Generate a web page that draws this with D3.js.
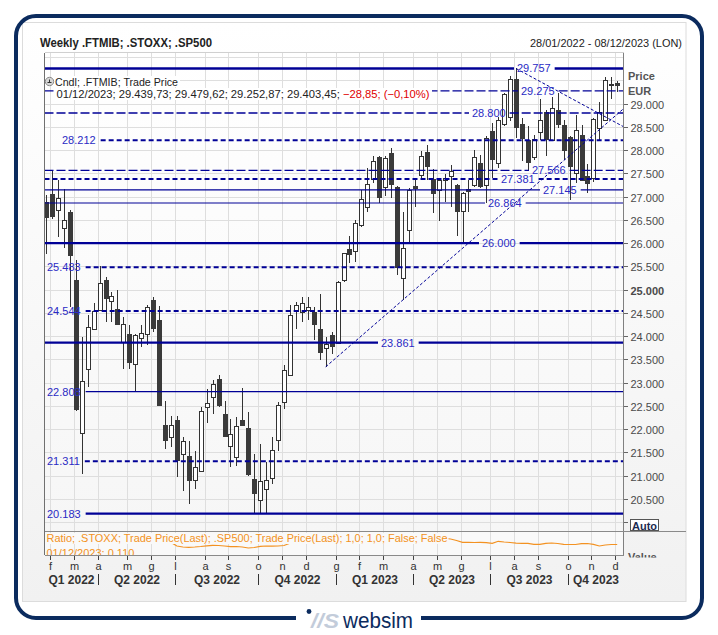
<!DOCTYPE html>
<html><head><meta charset="utf-8">
<script src="https://cdn.jsdelivr.net/npm/d3@7"></script>
<style>body{margin:0;background:#fff}svg{display:block}</style>
</head><body>
<svg id="c" width="718" height="635"></svg>
<script>
// ---------------- DATA ----------------
const firstWeek = "2022-01-28";
const open  = [26884,27063,26702,26323,26674,25207,21900,23302,24165,24575,25207,24761,24575,23876,24042,23410,23971,24042,24776,24344,
  22100,21826,22208,21481,21431,20907,21108,22474,22689,23078,22331,21647,21416,22202,22029,20929,20461,20713,20950,21755,
  22581,23157,24545,24502,24545,24523,24165,23746,24020,23854,25207,25876,25818,26394,26789,27365,27854,27207,27941,27207,
  25244,26271,27220,27451,27954,27386,27149,27365,27436,27257,26681,27170,27257,27725,27257,28407,27725,28551,28696,29522,
  28573,28228,27854,28407,28817,28228,28875,28551,28277,27509,28335,27451,27401,28480,28638,29405,29439.73];
const high  = [27041,27580,27365,27164,26717,25639,23984,24452,24704,25516,25278,24955,24991,24415,24236,24042,24236,24668,24847,24646,
  22597,22294,22294,21826,21755,21539,22474,22871,23050,23157,22597,22223,22258,22884,22366,21468,21684,21287,21826,22581,
  23388,24668,24739,24834,24847,24631,24905,23984,24092,25190,25800,26156,26502,27149,27617,27882,27870,27882,28049,27220,
  26681,27186,27350,27975,28120,27595,27401,27494,27688,27270,27091,27365,28001,27904,28299,28588,28717,29235,29593,29757,
  28696,28515,28335,29106,28875,29149,29235,28659,28299,28767,28551,27710,28690,29032,29580,29580,29479.62];
const low   = [25768,26517,26141,25891,24631,22402,21037,22905,24128,24560,24307,24307,24236,23302,23302,22819,23768,23805,24092,22490,
  21576,21611,20978,20661,20389,20713,21071,22128,22331,22488,21850,21194,21216,22080,21000,20187,20174,20174,20821,21539,
  22439,23136,24165,24307,24344,23928,23496,23337,23626,23840,25164,25567,25602,26357,26681,27293,26875,27019,26970,25315,
  24780,26033,26776,27365,27365,26659,26487,26896,26789,26156,25999,26681,27214,27186,26862,27401,27617,28515,28622,28264,
  27759,27580,27796,28228,27867,28213,28480,27796,26933,27293,27350,27078,27306,28191,28622,29091,29252.87];
const close = [26560,26594,26970,26502,25747,22439,23028,24200,24545,25149,24812,24862,24258,24258,23444,24035,24079,24631,24165,22510,
  21770,22094,21339,21755,20907,21179,22402,22568,22963,22510,21863,21900,22079,22094,21037,20618,20877,20907,21554,22510,
  23265,24452,24668,24704,24618,24273,23660,23826,23783,25170,25783,25762,26430,26948,27278,27759,26991,27833,27278,25494,
  25891,27134,27177,27867,27652,27078,27365,27401,27544,26702,27078,27127,27861,27235,28264,27796,28659,29198,29522,28480,
  28264,27759,28243,28659,28243,28912,28573,28012,27652,28443,27370,27293,28674,28817,29507,29432,29403.45];
// .STOXX / .SP500 ratio (one value per week)
const ratio = [0.1150,0.1155,0.1148,0.1160,0.1152,0.1140,0.1135,0.1142,0.1150,0.1147,0.1156,0.1151,0.1145,0.1139,0.1143,0.1148,0.1153,0.1146,0.1140,0.1132,
  0.1128,0.1121,0.1085,0.1075,0.1072,0.1075,0.1080,0.1087,0.1092,0.1090,0.1085,0.1078,0.1080,0.1075,0.1065,0.1070,0.1082,0.1085,0.1083,0.1085,
  0.1090,0.1112,0.1125,0.1131,0.1138,0.1142,0.1136,0.1140,0.1147,0.1152,0.1158,0.1161,0.1155,0.1149,0.1153,0.1160,0.1164,0.1158,0.1151,0.1156,
  0.1162,0.1159,0.1154,0.1160,0.1166,0.1163,0.1158,0.1162,0.1155,0.1140,0.1122,0.1122,0.1120,0.1122,0.1118,0.1112,0.1132,0.1125,0.1120,0.1113,
  0.1112,0.1112,0.1102,0.1102,0.1112,0.1115,0.1110,0.1102,0.1100,0.1100,0.1108,0.1110,0.1102,0.1085,0.1095,0.1100,0.1100];
const levelValues = [29757,29275,28800,28212,27566,27381,27145,26864,26000,25483,24544,23861,22808,21311,20183];
const levelKinds  = ["thick","dash","dash","dashB","dash","dashB","thin","thin","thick","dashB","dashB","thick","thin","dashB","thick"];
const priceTicks  = [20500,21000,21500,22000,22500,23000,23500,24000,24500,25000,25500,26000,26500,27000,27500,28000,28500,29000];
const monthInitials = ["g","f","m","a","m","g","l","a","s","o","n","d"];
// trend lines: [start week index, start value, end week index, end value]
const trend1 = [47, 23340, 96, 28774];
const trend2 = [79, 29757, 96, 28579];
const titleText = "Weekly .FTMIB; .STOXX; .SP500";
const rangeText = "28/01/2022 - 08/12/2023 (LON)";
const legendName = "Cndl; .FTMIB; Trade Price";
const legendDate = "01/12/2023";
const legendChange = [-28.85, -0.10];
const ratioText = "Ratio; .STOXX; Trade Price(Last); .SP500; Trade Price(Last);  1,0; 1,0; False; False";

// ---------------- LAYOUT ----------------
const PL=44.5, PR=623.5, PT=52.5, PB=531, RT=531, RB=555;
const levelLabelX = [517,521,472,62,532,501,543,488,482,47,47,381,47,47,47];
const NAVY="#000096", LABEL="#2a2ac4", FONT="'Liberation Sans', Arial, sans-serif";

const t0 = d3.utcParse("%Y-%m-%d")(firstWeek);
const dates = open.map((_,i)=>d3.utcDay.offset(t0, 7*i));
const locale = d3.formatLocale({decimal:",", thousands:".", grouping:[3], currency:["","€"]});
const fmtInt = locale.format(",.0f"), fmt2 = locale.format(",.2f");

const svg = d3.select("#c");
const defs = svg.append("defs");
function grad(id, c1, c2){
  const g = defs.append("linearGradient").attr("id",id).attr("x1",0).attr("y1",0).attr("x2",0).attr("y2",1);
  g.append("stop").attr("offset","0%").attr("stop-color",c1);
  g.append("stop").attr("offset","100%").attr("stop-color",c2);
}
grad("panelG","#ffffff","#f1f1f1");
grad("plotG","#ffffff","#f6f6f6");
defs.append("clipPath").attr("id","plotClip").append("rect").attr("x",PL).attr("y",PT).attr("width",PR-PL).attr("height",PB-PT);
defs.append("clipPath").attr("id","ratioClip").append("rect").attr("x",PL).attr("y",RT).attr("width",PR-PL).attr("height",RB-RT);
defs.append("clipPath").attr("id","valClip").append("rect").attr("x",PR+1).attr("y",RT+1).attr("width",70).attr("height",RB-RT+1.5);

const x = d3.scalePoint().domain(dates).range([46, 617.2]);
const y = d3.scaleLinear().domain([20000,30000]).range([522.2, 57.2]);
const yr = d3.scaleLinear().domain([0.1005,0.1225]).range([554,532]);

// background & frames
svg.append("rect").attr("width",718).attr("height",635).attr("fill","#fff");
svg.append("rect").attr("x",22.5).attr("y",22.5).attr("width",663.5).attr("height",579).attr("fill","url(#panelG)").attr("stroke","#dcdcdc");
svg.append("rect").attr("x",16).attr("y",16).attr("width",686).attr("height",602).attr("rx",20)
  .attr("fill","none").attr("stroke","#0b2b5e").attr("stroke-width",4);

function txt(s, xx, yy, o={}){
  const t = svg.append("text").attr("x",xx).attr("y",yy).text(s)
    .attr("font-family",o.family||FONT).attr("font-size",o.size||11)
    .attr("font-weight",o.weight||"normal").attr("fill",o.fill||"#222")
    .attr("text-anchor",o.anchor||"start");
  if(o.len){ t.attr("textLength",o.len).attr("lengthAdjust","spacingAndGlyphs"); }
  return t;
}

// header
txt(titleText, 40, 46.5, {weight:"bold", size:12, len:172});
txt(rangeText, 530, 46.5, {size:11.5, len:152});

// plot areas
svg.append("rect").attr("x",PL).attr("y",PT).attr("width",PR-PL).attr("height",PB-PT).attr("fill","url(#plotG)");
svg.append("rect").attr("x",PL).attr("y",RT).attr("width",PR-PL).attr("height",RB-RT).attr("fill","#f9f9f9");

// month ticks
const monthDates = dates.filter((d,i)=> i>0 && d.getUTCMonth()!==dates[i-1].getUTCMonth());
const mx = d => Math.round(x(d)-2)+0.5;

const grid = svg.append("g").attr("stroke","#dedede").attr("stroke-width",1).attr("shape-rendering","crispEdges");
y.ticks(20).filter(v=>y(v)>PT && y(v)<PB).forEach(v=>{
  const yy = Math.round(y(v))+0.5;
  grid.append("line").attr("x1",PL).attr("x2",PR).attr("y1",yy).attr("y2",yy);
});
monthDates.forEach(d=>{
  grid.append("line").attr("x1",mx(d)).attr("x2",mx(d)).attr("y1",PT).attr("y2",RB);
});

// candles
const cg = svg.append("g").attr("clip-path","url(#plotClip)").attr("shape-rendering","crispEdges");
dates.forEach((d,i)=>{
  const cx = Math.round(x(d));
  const up = close[i] >= open[i];
  cg.append("line").attr("x1",cx+0.5).attr("x2",cx+0.5).attr("y1",y(high[i])).attr("y2",y(low[i]))
    .attr("stroke","#333").attr("stroke-width",1);
  const top = y(Math.max(open[i],close[i])), bot = y(Math.min(open[i],close[i]));
  cg.append("rect").attr("x",cx-1.5).attr("y",Math.round(top)+0.5).attr("width",4)
    .attr("height",Math.max(1,Math.round(bot-top)))
    .attr("fill", up ? "#fff" : "#3a3a3a").attr("stroke", up ? "#333" : "#3a3a3a").attr("stroke-width",1);
});

// level lines + labels
const lg = svg.append("g").attr("clip-path","url(#plotClip)");
const labG = svg.append("g");
levelValues.forEach((v,k)=>{
  const yy = y(v);
  const lab = labG.append("text").attr("x",levelLabelX[k]).attr("y",yy+4).text(fmtInt(v))
    .attr("font-family",FONT).attr("font-size",11).attr("fill",LABEL);
  const w = lab.node().getComputedTextLength();
  const a = levelLabelX[k]-3, b = levelLabelX[k]+w+4;
  const kind = levelKinds[k];
  const sw = kind==="thick"?2.3: kind==="dashB"?2: kind==="dash"?1.3:1.2;
  const dash = kind==="dash"?"9,3": kind==="dashB"?"5,3":null;
  const segs = a < 60 ? [[b+1, PR]] : [[PL, a],[b, PR]];
  segs.forEach(s=>{
    const ln = lg.append("line").attr("x1",s[0]).attr("x2",s[1]).attr("y1",yy).attr("y2",yy)
      .attr("stroke",NAVY).attr("stroke-width",sw);
    if(dash) ln.attr("stroke-dasharray",dash);
  });
});

// trend lines (extended to the right edge)
function trend(tl){
  const x1 = x(dates[tl[0]]), y1 = y(tl[1]), x2 = x(dates[tl[2]]), y2 = y(tl[3]);
  const s = (y2-y1)/(x2-x1);
  lg.append("line").attr("x1",x1).attr("y1",y1).attr("x2",PR).attr("y2",y1+s*(PR-x1))
    .attr("stroke",NAVY).attr("stroke-width",1).attr("stroke-dasharray","3,2");
}
trend(trend1); trend(trend2);
labG.raise();

// legend
const lastI = dates.length-1;
svg.append("rect").attr("x",54).attr("y",76).attr("width",126).attr("height",11).attr("fill","#fff");
svg.append("rect").attr("x",55).attr("y",88).attr("width",377).attr("height",12).attr("fill","#fff");
svg.append("circle").attr("cx",49.5).attr("cy",81.5).attr("r",4.2).attr("fill","#d6d6d6").attr("stroke","#8a8a8a");
svg.append("path").attr("d","M47.5,82.5 h4 M49.5,79.5 v3").attr("stroke","#333").attr("stroke-width",1);
txt(legendName, 55, 85.5, {len:123});
const lt = svg.append("text").attr("x",56.5).attr("y",97.5).attr("font-family",FONT).attr("font-size",11).attr("fill","#222");
lt.append("tspan").text(`${legendDate}; ${fmt2(open[lastI])}; ${fmt2(high[lastI])}; ${fmt2(low[lastI])}; ${fmt2(close[lastI])}; `);
lt.append("tspan").attr("fill","#e00000").text(`${fmt2(legendChange[0])}; (${fmt2(legendChange[1])}%)`);
lt.attr("textLength",373).attr("lengthAdjust","spacingAndGlyphs");

// frame lines
const fr = svg.append("g").attr("shape-rendering","crispEdges").attr("fill","none");
fr.append("line").attr("x1",PL).attr("x2",PL).attr("y1",PT).attr("y2",RB).attr("stroke","#707070");
fr.append("line").attr("x1",PR).attr("x2",PR).attr("y1",PT).attr("y2",RB).attr("stroke","#808080");
fr.append("line").attr("x1",PL).attr("x2",PR).attr("y1",PT).attr("y2",PT).attr("stroke","#d0d0d0");
fr.append("line").attr("x1",PL).attr("x2",686).attr("y1",RT+0.5).attr("y2",RT+0.5).attr("stroke","#8a8a8a");
fr.append("line").attr("x1",PL).attr("x2",PR).attr("y1",RB+0.5).attr("y2",RB+0.5).attr("stroke","#8a8a8a");

// right price axis
const ax = svg.append("g");
[20000].concat(priceTicks).forEach(v=>{
  ax.append("line").attr("x1",PR).attr("x2",PR+4).attr("y1",Math.round(y(v))+0.5).attr("y2",Math.round(y(v))+0.5)
    .attr("stroke","#666").attr("shape-rendering","crispEdges");
});
priceTicks.forEach(v=>{
  ax.append("text").attr("x",630.5).attr("y",y(v)+5).text(fmtInt(v))
    .attr("font-family",FONT).attr("font-size",11).attr("fill","#4a4a4a")
    .attr("font-weight", v===25000?"bold":"normal");
});
txt("Price", 628, 80, {weight:"bold", fill:"#555"});
txt("EUR", 628, 95, {weight:"bold", fill:"#555"});
svg.append("rect").attr("x",630.5).attr("y",519.5).attr("width",28).attr("height",11).attr("fill","#fff").attr("stroke","#555");
txt("Auto", 632, 529.5, {weight:"bold", fill:"#1d2b50", len:25});
svg.append("g").attr("clip-path","url(#valClip)").append("text").attr("x",628).attr("y",560.5).text("Value")
  .attr("font-family",FONT).attr("font-size",11).attr("font-weight","bold").attr("fill","#555");

// ratio panel
const rg = svg.append("g").attr("clip-path","url(#ratioClip)");
rg.append("path").datum(ratio).attr("fill","none").attr("stroke","#f39222").attr("stroke-width",1.2)
  .attr("d", d3.line().x((r,i)=>x(dates[i])).y(r=>yr(r)));
rg.append("rect").attr("x",PL+1).attr("y",533).attr("width",403).attr("height",11).attr("fill","#f9f9f9");
rg.append("text").attr("x",46.5).attr("y",542).text(ratioText).attr("font-family",FONT).attr("font-size",11)
  .attr("fill","#f39222").attr("textLength",401).attr("lengthAdjust","spacingAndGlyphs");
rg.append("text").attr("x",46.5).attr("y",556.5).text(`${legendDate}; ${locale.format(",.3f")(ratio[lastI])}`)
  .attr("font-family",FONT).attr("font-size",11).attr("fill","#f39222");

// x axis: months and quarters
monthDates.forEach(d=>{
  svg.append("line").attr("x1",mx(d)).attr("x2",mx(d)).attr("y1",556).attr("y2",560).attr("stroke","#444").attr("shape-rendering","crispEdges");
  txt(monthInitials[d.getUTCMonth()], mx(d), 569.5, {anchor:"middle", fill:"#333"});
});
const seps = monthDates.filter(d=>d.getUTCMonth()%3===0);
seps.forEach(d=>{
  svg.append("line").attr("x1",mx(d)).attr("x2",mx(d)).attr("y1",574).attr("y2",585).attr("stroke","#333").attr("shape-rendering","crispEdges");
});
const bounds = [PL].concat(seps.map(mx)).concat([PR]);
const qStarts = [dates[0]].concat(seps);
qStarts.forEach((d,k)=>{
  const q = Math.floor(d.getUTCMonth()/3)+1;
  txt(`Q${q} ${d.getUTCFullYear()}`, (bounds[k]+bounds[k+1])/2, 584, {anchor:"middle", weight:"bold", size:12, fill:"#333"});
});

// logo
svg.append("rect").attr("x",296).attr("y",610).attr("width",125).attr("height",16).attr("fill","#fff");
svg.append("circle").attr("cx",309).attr("cy",611.5).attr("r",2.4).attr("fill","#0b2b5e");
txt("//S", 311, 628, {size:21, weight:"bold", fill:"#c3ccda", family:"'Liberation Sans', Arial", len:28}).attr("font-style","italic");
txt("websim", 343, 628, {size:22, fill:"#0b2b5e", len:70});
</script>
</body></html>
